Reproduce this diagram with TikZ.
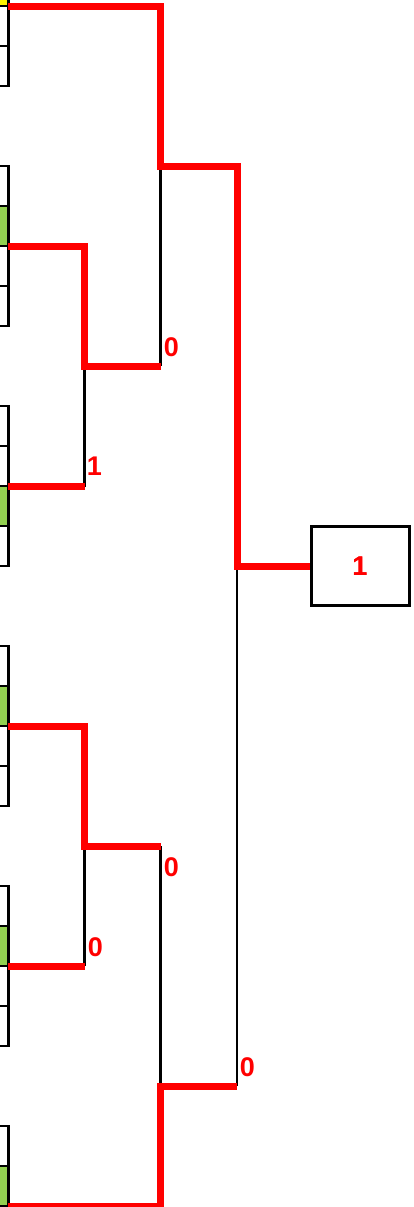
\documentclass[tikz,border=0pt]{standalone}
\usepackage{fontspec}
\setmainfont{Liberation Sans}
\definecolor{cellgreen}{HTML}{92D050}
\definecolor{win}{HTML}{FF0000}
\begin{document}
\begin{tikzpicture}[x=1pt,y=-1pt,
  cell/.style={draw=black,line width=2.5pt},
  wire/.style={draw=black,line width=2.5pt},
  winpath/.style={draw=win,line width=7pt},
  score/.style={text=win,font=\bfseries\fontsize{27}{27}\selectfont,inner sep=0pt},
  result/.style={draw=black,line width=3pt,minimum width=98pt,minimum height=79pt,inner sep=0pt,text=win,font=\bfseries\fontsize{27}{27}\selectfont}]
\useasboundingbox (0,0) rectangle (414,1207);
\clip (0,0) rectangle (414,1207);
% cells (six groups of four)
\foreach \k/\hl/\col in {0/2/yellow,1/2/cellgreen,2/3/cellgreen,3/2/cellgreen,4/2/cellgreen,5/2/cellgreen}{
  \pgfmathsetmacro{\T}{-74+240*\k}
  \foreach \i in {1,...,4}{
    \pgfmathsetmacro{\a}{\T+40*(\i-1)}
    \pgfmathsetmacro{\b}{\T+40*\i}
    \ifnum\i=\hl
      \fill[\col] (-20,\a) rectangle (8.3,\b);
    \fi
    \draw[cell] (-20,\a) rectangle (8.3,\b);
  }
}
% named points
\coordinate (g1) at (8.3,6.5);
\coordinate (g2) at (8.3,246);
\coordinate (g3) at (8.3,486.5);
\coordinate (g4) at (8.3,726);
\coordinate (g5) at (8.3,966);
\coordinate (g6) at (8.3,1206);
\coordinate (a1) at (84.5,366);
\coordinate (a1b) at (84.5,486.5);
\coordinate (a2) at (84.5,846);
\coordinate (a2b) at (84.5,966);
\coordinate (b1) at (160.5,166.5);
\coordinate (b1b) at (160.5,366);
\coordinate (b2) at (160.5,846);
\coordinate (b2b) at (160.5,1086);
\coordinate (c1) at (237,566);
\coordinate (c1b) at (237,1086);
\node[result] (final) at (360,566) {1};
% black bracket lines
\draw[wire] (a1) -- (a1b);
\draw[wire] (a2) -- (a2b);
\draw[wire] (b1) -- (b1b);
\draw[wire] (b2) -- (b2b);
\draw[wire] (c1) -- (c1b);
% winning paths
\draw[winpath] (g1) -| (b1) -| (c1) -- (final.west);
\draw[winpath] (g2) -| (a1) -- (b1b);
\draw[winpath] (g3) -- (a1b);
\draw[winpath] (g4) -| (a2) -- (b2);
\draw[winpath] (g5) -- (a2b);
\draw[winpath] (g6) -| (b2b) -- (c1b);
\node[result] at (final) {1};
% scores
\node[score] (s1) at (171.5,347) {0};
\node[score] (s2) at (94.5,466.5) {1};
\node[score] (s3) at (171.5,867) {0};
\node[score] (s4) at (95.5,947.5) {0};
\node[score] (s5) at (247.5,1067.5) {0};
\end{tikzpicture}
\end{document}
